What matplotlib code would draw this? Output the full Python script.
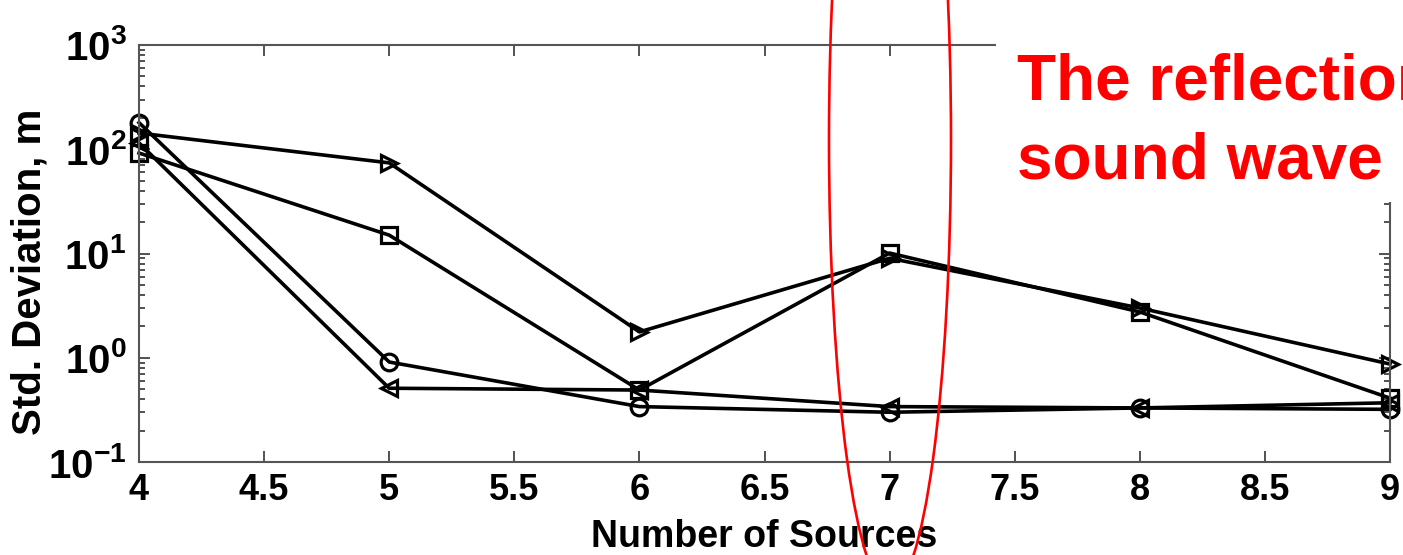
import matplotlib
matplotlib.use("Agg")
import matplotlib.pyplot as plt
from matplotlib.patches import Ellipse, Rectangle
from matplotlib.ticker import FixedLocator, LogLocator, NullFormatter

plt.rcParams['font.family'] = ['Liberation Sans', 'DejaVu Sans']
plt.rcParams['font.weight'] = 'bold'
plt.rcParams['mathtext.fontset'] = 'custom'
plt.rcParams['mathtext.bf'] = 'Liberation Sans:bold'
plt.rcParams['mathtext.rm'] = 'Liberation Sans:bold'

# Data
num_sources = [4, 5, 6, 7, 8, 9]
std_circle = [180, 0.91, 0.34, 0.30, 0.33, 0.32]
std_tri_right = [143, 74, 1.77, 9.0, 3.0, 0.87]
std_square = [92, 15, 0.49, 10.1, 2.75, 0.41]
std_tri_left = [115, 0.51, 0.49, 0.34, 0.33, 0.37]

x_ticks = [4, 4.5, 5, 5.5, 6, 6.5, 7, 7.5, 8, 8.5, 9]
x_tick_labels = ['4', '4.5', '5', '5.5', '6', '6.5', '7', '7.5', '8', '8.5', '9']
y_exponents = [-1, 0, 1, 2, 3]

W, H = 1403, 555
fig = plt.figure(figsize=(W / 100, H / 100), dpi=100)
ax = fig.add_axes([139 / W, 1 - 462 / H, (1390 - 139) / W, (462 - 45) / H])

style = dict(color='black', lw=2.6, markersize=12, markerfacecolor='none',
             markeredgewidth=2.3, clip_on=False)
ax.plot(num_sources, std_circle, marker='o', **style)
ax.plot(num_sources, std_tri_right, marker='>', **style)
ax.plot(num_sources, std_square, marker='s', **style)
ax.plot(num_sources, std_tri_left, marker='<', **style)

ax.set_yscale('log')
ax.set_xlim(4, 9)
ax.set_ylim(0.1, 1000)
ax.xaxis.set_major_locator(FixedLocator(x_ticks))
ax.set_xticklabels(x_tick_labels)
ax.yaxis.set_major_locator(FixedLocator([10.0 ** e for e in y_exponents]))
ax.set_yticklabels([r'$\mathbf{10^{%d}}$' % e for e in y_exponents])
ax.yaxis.set_minor_locator(LogLocator(base=10, subs=range(2, 10), numticks=20))
ax.yaxis.set_minor_formatter(NullFormatter())

ax.tick_params(which='both', direction='in', top=True, right=True,
               color='#444444', width=1.3)
ax.tick_params(which='major', length=8, pad=8)
ax.tick_params(axis='x', which='major', labelsize=26)
ax.tick_params(axis='y', which='major', labelsize=29, pad=9)
ax.tick_params(which='minor', length=4)
for lab in ax.get_xticklabels() + ax.get_yticklabels():
    lab.set_fontweight('bold')
for sp in ax.spines.values():
    sp.set_color('#555555')
    sp.set_linewidth(1.5)

ax.set_xlabel('Number of Sources', fontsize=27, fontweight='bold', labelpad=8)
ax.set_ylabel('Std. Deviation, m', fontsize=29, fontweight='bold')
ax.yaxis.set_label_coords(-0.072, 0.455)

# White box covering upper right area
fig.add_artist(Rectangle((996 / W, 1 - 202 / H), 1 - 996 / W, 202 / H,
                         transform=fig.transFigure, facecolor='white',
                         edgecolor='none', zorder=10))

# Red annotation text
fig.text(1017 / W, 1 - 100 / H, 'The reflection', color='#ff0000', fontsize=46,
         fontweight='bold', va='baseline', ha='left', zorder=11)
fig.text(1017 / W, 1 - 178 / H, 'sound wave', color='#ff0000', fontsize=46,
         fontweight='bold', va='baseline', ha='left', zorder=11)

# Red ellipse
fig.add_artist(Ellipse((890 / W, 1 - 140 / H), 122 / W, 900 / H,
                       transform=fig.transFigure, facecolor='none',
                       edgecolor='#ff0000', lw=1.9, zorder=12))

fig.savefig('out.png', dpi=100)
